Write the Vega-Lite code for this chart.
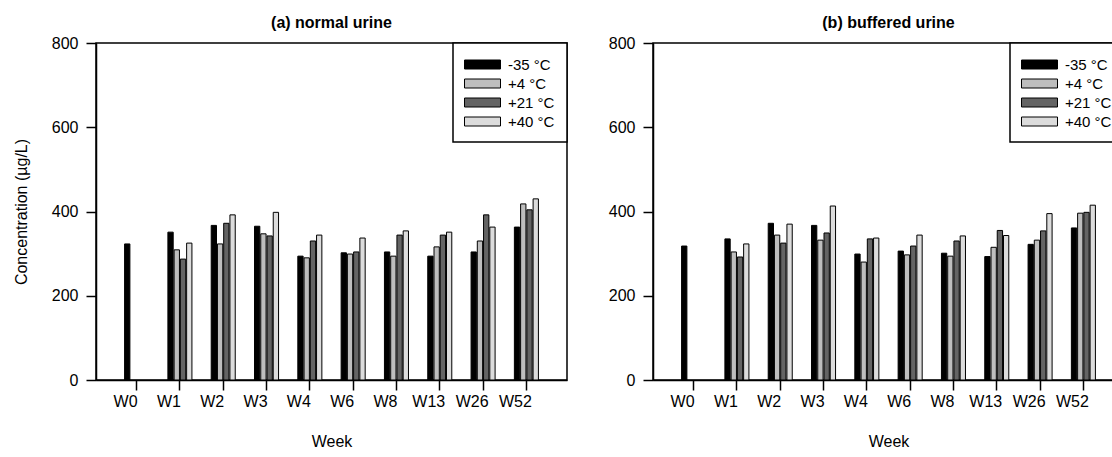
{
  "$schema": "https://vega.github.io/schema/vega-lite/v6.json",
  "padding": {"left": 12, "top": 14, "right": 0, "bottom": 0},
  "background": "white",
  "datasets": {
    "a": [
      {"week": "W0", "temp": "-35 °C", "value": 323},
      {"week": "W1", "temp": "-35 °C", "value": 351},
      {"week": "W1", "temp": "+4 °C", "value": 309},
      {"week": "W1", "temp": "+21 °C", "value": 287},
      {"week": "W1", "temp": "+40 °C", "value": 325},
      {"week": "W2", "temp": "-35 °C", "value": 367},
      {"week": "W2", "temp": "+4 °C", "value": 323},
      {"week": "W2", "temp": "+21 °C", "value": 372},
      {"week": "W2", "temp": "+40 °C", "value": 392},
      {"week": "W3", "temp": "-35 °C", "value": 365},
      {"week": "W3", "temp": "+4 °C", "value": 347},
      {"week": "W3", "temp": "+21 °C", "value": 342},
      {"week": "W3", "temp": "+40 °C", "value": 398},
      {"week": "W4", "temp": "-35 °C", "value": 294},
      {"week": "W4", "temp": "+4 °C", "value": 290},
      {"week": "W4", "temp": "+21 °C", "value": 330},
      {"week": "W4", "temp": "+40 °C", "value": 344},
      {"week": "W6", "temp": "-35 °C", "value": 302},
      {"week": "W6", "temp": "+4 °C", "value": 299},
      {"week": "W6", "temp": "+21 °C", "value": 304},
      {"week": "W6", "temp": "+40 °C", "value": 337},
      {"week": "W8", "temp": "-35 °C", "value": 304},
      {"week": "W8", "temp": "+4 °C", "value": 294},
      {"week": "W8", "temp": "+21 °C", "value": 344},
      {"week": "W8", "temp": "+40 °C", "value": 354},
      {"week": "W13", "temp": "-35 °C", "value": 294},
      {"week": "W13", "temp": "+4 °C", "value": 316},
      {"week": "W13", "temp": "+21 °C", "value": 344},
      {"week": "W13", "temp": "+40 °C", "value": 351},
      {"week": "W26", "temp": "-35 °C", "value": 304},
      {"week": "W26", "temp": "+4 °C", "value": 330},
      {"week": "W26", "temp": "+21 °C", "value": 392},
      {"week": "W26", "temp": "+40 °C", "value": 363},
      {"week": "W52", "temp": "-35 °C", "value": 363},
      {"week": "W52", "temp": "+4 °C", "value": 418},
      {"week": "W52", "temp": "+21 °C", "value": 404},
      {"week": "W52", "temp": "+40 °C", "value": 430}
    ],
    "b": [
      {"week": "W0", "temp": "-35 °C", "value": 318},
      {"week": "W1", "temp": "-35 °C", "value": 335},
      {"week": "W1", "temp": "+4 °C", "value": 304},
      {"week": "W1", "temp": "+21 °C", "value": 292},
      {"week": "W1", "temp": "+40 °C", "value": 323},
      {"week": "W2", "temp": "-35 °C", "value": 372},
      {"week": "W2", "temp": "+4 °C", "value": 344},
      {"week": "W2", "temp": "+21 °C", "value": 325},
      {"week": "W2", "temp": "+40 °C", "value": 370},
      {"week": "W3", "temp": "-35 °C", "value": 367},
      {"week": "W3", "temp": "+4 °C", "value": 332},
      {"week": "W3", "temp": "+21 °C", "value": 349},
      {"week": "W3", "temp": "+40 °C", "value": 413},
      {"week": "W4", "temp": "-35 °C", "value": 299},
      {"week": "W4", "temp": "+4 °C", "value": 280},
      {"week": "W4", "temp": "+21 °C", "value": 335},
      {"week": "W4", "temp": "+40 °C", "value": 337},
      {"week": "W6", "temp": "-35 °C", "value": 306},
      {"week": "W6", "temp": "+4 °C", "value": 297},
      {"week": "W6", "temp": "+21 °C", "value": 318},
      {"week": "W6", "temp": "+40 °C", "value": 344},
      {"week": "W8", "temp": "-35 °C", "value": 301},
      {"week": "W8", "temp": "+4 °C", "value": 294},
      {"week": "W8", "temp": "+21 °C", "value": 330},
      {"week": "W8", "temp": "+40 °C", "value": 342},
      {"week": "W13", "temp": "-35 °C", "value": 293},
      {"week": "W13", "temp": "+4 °C", "value": 315},
      {"week": "W13", "temp": "+21 °C", "value": 355},
      {"week": "W13", "temp": "+40 °C", "value": 343},
      {"week": "W26", "temp": "-35 °C", "value": 322},
      {"week": "W26", "temp": "+4 °C", "value": 332},
      {"week": "W26", "temp": "+21 °C", "value": 354},
      {"week": "W26", "temp": "+40 °C", "value": 395},
      {"week": "W52", "temp": "-35 °C", "value": 361},
      {"week": "W52", "temp": "+4 °C", "value": 396},
      {"week": "W52", "temp": "+21 °C", "value": 398},
      {"week": "W52", "temp": "+40 °C", "value": 415}
    ]
  },
  "hconcat": [
    {
      "data": {"name": "a"},
      "width": 471,
      "height": 337,
      "title": {"text": "(a) normal urine"},
      "mark": {"type": "bar", "stroke": "black", "strokeWidth": 1},
      "encoding": {
        "x": {"field": "week", "type": "nominal", "sort": ["W0","W1","W2","W3","W4","W6","W8","W13","W26","W52"], "scale": {"paddingInner": 0.445, "paddingOuter": 0.66}, "axis": {"title": "Week"}},
        "xOffset": {"field": "temp", "type": "nominal", "scale": {"domain": ["-35 °C","+4 °C","+21 °C","+40 °C"], "paddingInner": 0.15}},
        "y": {"field": "value", "type": "quantitative", "scale": {"domain": [0, 800]}, "axis": {"title": "Concentration (µg/L)", "values": [0,200,400,600,800]}},
        "color": {"field": "temp", "type": "nominal", "scale": {"domain": ["-35 °C","+4 °C","+21 °C","+40 °C"], "range": ["#000000","#bebebe","#646464","#dcdcdc"]}, "legend": {"title": null, "orient": "top-right"}}
      }
    },
    {
      "data": {"name": "b"},
      "width": 471,
      "height": 337,
      "title": {"text": "(b) buffered urine"},
      "mark": {"type": "bar", "stroke": "black", "strokeWidth": 1},
      "encoding": {
        "x": {"field": "week", "type": "nominal", "sort": ["W0","W1","W2","W3","W4","W6","W8","W13","W26","W52"], "scale": {"paddingInner": 0.445, "paddingOuter": 0.66}, "axis": {"title": "Week"}},
        "xOffset": {"field": "temp", "type": "nominal", "scale": {"domain": ["-35 °C","+4 °C","+21 °C","+40 °C"], "paddingInner": 0.15}},
        "y": {"field": "value", "type": "quantitative", "scale": {"domain": [0, 800]}, "axis": {"title": null, "values": [0,200,400,600,800]}},
        "color": {"field": "temp", "type": "nominal", "scale": {"domain": ["-35 °C","+4 °C","+21 °C","+40 °C"], "range": ["#000000","#bebebe","#646464","#dcdcdc"]}, "legend": {"title": null, "orient": "top-right"}}
      }
    }
  ],
  "resolve": {"legend": {"color": "independent"}, "scale": {"color": "independent"}},
  "spacing": 38,
  "config": {
    "font": "Liberation Sans",
    "view": {"stroke": "black", "strokeWidth": 1.5},
    "title": {"fontSize": 16, "fontWeight": "bold", "color": "black", "offset": 4, "anchor": "middle"},
    "axis": {
      "grid": false,
      "domainColor": "black",
      "domainWidth": 1.5,
      "tickColor": "black",
      "tickWidth": 1.5,
      "tickSize": 10,
      "labelFontSize": 16,
      "labelColor": "black",
      "titleFontSize": 16,
      "titleFontWeight": "normal",
      "titleColor": "black",
      "labelPadding": 8
    },
    "axisX": {"labelAngle": 0, "labelOffset": -11, "labelPadding": 3, "titlePadding": 24},
    "axisY": {"titlePadding": 22},
    "legend": {
      "strokeColor": "black",
      "strokeWidth": 1.5,
      "fillColor": "white",
      "padding": 12,
      "offset": 0,
      "symbolType": "M-2,-0.5H2V0.5H-2Z",
      "symbolSize": 324,
      "symbolOffset": 8,
      "symbolStrokeColor": "black",
      "symbolStrokeWidth": 1,
      "symbolOpacity": 1,
      "labelFontSize": 15,
      "labelColor": "black",
      "labelOffset": 16,
      "rowPadding": 1
    }
  }
}
